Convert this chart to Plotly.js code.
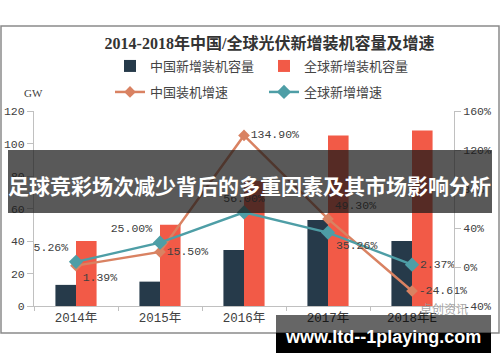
<!DOCTYPE html>
<html>
<head>
<meta charset="utf-8">
<script src="https://cdn.plot.ly/plotly-3.0.1.min.js"></script>
<style>
html,body{margin:0;padding:0;background:#fff;}
#chart{width:500px;height:362px;}
</style>
</head>
<body>
<div id="chart"></div>
<script>
// ---- data ----
const categories = ['2014年', '2015年', '2016年', '2017年', '2018年E'];
const chinaCapacity = [13, 15, 34.5, 53, 40];          // GW
const globalCapacity = [40, 50, 77, 105, 108];          // GW
const chinaGrowth = [1.39, 15.50, 134.90, 49.30, -24.61];   // %
const globalGrowth = [5.26, 25.00, 56.00, 35.26, 2.37];     // %
const leftTicks = [0, 20, 40, 60, 80, 100, 120];
const rightTicks = [-40, 0, 40, 80, 120, 160];
const rightTickLabels = ['-40%', '0%', '40%', '80%', '120%', '160%'];

const chartTitle = '2014-2018年中国/全球光伏新增装机容量及增速';
const seriesNames = ['中国新增装机容量', '全球新增装机容量', '中国装机增速', '全球新增增速'];
const bannerText = '足球竞彩场次减少背后的多重因素及其市场影响分析';
const watermarkText = 'www.ltd--1playing.com';
const sourceText = '卓创资讯';

// ---- geometry helpers (pixel -> paper) ----
const W = 500, H = 362;
const M = {l: 34, r: 46, t: 111, b: 56};
const PW = W - M.l - M.r, PH = H - M.t - M.b;
const px = x => (x - M.l) / PW;
const py = y => (H - M.b - y) / PH;

const monoFont = 'Liberation Mono, Noto Sans CJK SC, monospace';
const cjkFont = 'Noto Sans CJK SC, sans-serif';

const fmt = v => v.toFixed(2) + '%';

const traces = [
  {
    type: 'bar', name: seriesNames[0], x: categories, y: chinaCapacity,
    marker: {color: '#263a4a'}, legend: 'legend', hoverinfo: 'skip'
  },
  {
    type: 'bar', name: seriesNames[1], x: categories, y: globalCapacity,
    marker: {color: '#f25a47'}, legend: 'legend', hoverinfo: 'skip'
  },
  {
    type: 'scatter', name: seriesNames[2], x: categories, y: chinaGrowth, yaxis: 'y2',
    mode: 'lines+markers+text', legend: 'legend2',
    line: {color: '#d98262', width: 2.5},
    marker: {symbol: 'diamond', size: 9, color: '#d98262'},
    text: chinaGrowth.map(fmt),
    textposition: ['bottom right', 'middle right', 'middle right', 'top right', 'middle right'],
    textfont: {family: monoFont, size: 11.5, color: '#404040'},
    cliponaxis: false, hoverinfo: 'skip'
  },
  {
    type: 'scatter', name: seriesNames[3], x: categories, y: globalGrowth, yaxis: 'y2',
    mode: 'lines+markers+text', legend: 'legend2',
    line: {color: '#4e9ea6', width: 2.5},
    marker: {symbol: 'diamond', size: 11, color: '#4e9ea6'},
    text: globalGrowth.map(fmt),
    textposition: ['top left', 'top left', 'top center', 'bottom right', 'middle right'],
    textfont: {family: monoFont, size: 11.5, color: '#404040'},
    cliponaxis: false, hoverinfo: 'skip'
  }
];

const legendBase = {
  orientation: 'h', xref: 'container', yref: 'container',
  xanchor: 'left', yanchor: 'middle',
  font: {family: cjkFont, size: 13, color: '#444'},
  entrywidth: 109, entrywidthmode: 'pixels',
  bgcolor: 'rgba(0,0,0,0)', borderwidth: 0, traceorder: 'normal'
};

const layout = {
  width: W, height: H,
  margin: M,
  paper_bgcolor: '#fff', plot_bgcolor: '#fff',
  showlegend: true,
  barmode: 'group', bargap: 0.51, bargroupgap: 0,
  font: {family: monoFont, size: 12, color: '#404040'},
  title: {
    text: '<b>' + chartTitle + '</b>',
    font: {family: 'Liberation Serif, Noto Sans CJK SC, serif', size: 16, color: '#333'},
    xref: 'container', yref: 'container', x: 269.5 / W, y: 1 - 43 / H,
    xanchor: 'center', yanchor: 'middle'
  },
  legend: Object.assign({}, legendBase, {x: 110 / W, y: 1 - 66 / H}),
  legend2: Object.assign({}, legendBase, {x: 110 / W, y: 1 - 92 / H}),
  xaxis: {
    type: 'category', showline: true, linecolor: '#c0c0c0', linewidth: 1,
    ticks: 'outside', tickson: 'boundaries', ticklen: 4, tickcolor: '#c0c0c0',
    tickfont: {family: monoFont, size: 12.5, color: '#404040'},
    showgrid: false, zeroline: false, fixedrange: true
  },
  yaxis: {
    range: [0, 120], tickmode: 'array', tickvals: leftTicks, showline: true, linecolor: '#c0c0c0',
    ticks: 'outside', ticklen: 6, tickcolor: '#c0c0c0',
    tickfont: {family: monoFont, size: 11.5, color: '#404040'},
    showgrid: false, zeroline: false, fixedrange: true
  },
  yaxis2: {
    range: [-40, 160], tickmode: 'array', tickvals: rightTicks, ticktext: rightTickLabels,
    overlaying: 'y', side: 'right', showline: true, linecolor: '#c0c0c0',
    ticks: 'outside', ticklen: 6, tickcolor: '#c0c0c0',
    tickfont: {family: monoFont, size: 11.5, color: '#404040'},
    showgrid: false, zeroline: false, fixedrange: true
  },
  shapes: [
    // outer image border
    {type: 'rect', xref: 'paper', yref: 'paper', x0: px(1), x1: px(499), y0: py(26), y1: py(333),
     line: {color: '#8a8a8a', width: 1.5}, fillcolor: 'rgba(0,0,0,0)', layer: 'below'},
    // overlay banner
    {type: 'rect', xref: 'paper', yref: 'paper', x0: px(8), x1: px(492), y0: py(150), y1: py(213),
     line: {width: 0}, fillcolor: 'rgba(25,25,25,0.72)', layer: 'above'},
    // watermark box (upper translucent part over the chart)
    {type: 'rect', xref: 'paper', yref: 'paper', x0: px(276), x1: px(491), y0: py(315), y1: py(333),
     line: {width: 0}, fillcolor: 'rgba(0,0,0,0.6)', layer: 'above'},
    // watermark box (lower solid part)
    {type: 'rect', xref: 'paper', yref: 'paper', x0: px(276), x1: px(491), y0: py(333), y1: py(353),
     line: {width: 0}, fillcolor: '#000', layer: 'above'}
  ],
  annotations: [
    {text: 'GW', xref: 'paper', yref: 'paper', x: px(22), y: py(85), showarrow: false,
     font: {family: 'Liberation Serif, serif', size: 11, color: '#404040'}},
    {text: '<b>' + bannerText + '</b>', xref: 'paper', yref: 'paper', x: px(250), y: py(185),
     xanchor: 'center', yanchor: 'middle', showarrow: false,
     font: {family: cjkFont, size: 21, color: '#fff'}},
    {text: sourceText, xref: 'paper', yref: 'paper', x: px(444), y: py(308),
     xanchor: 'center', yanchor: 'middle', showarrow: false,
     font: {family: cjkFont, size: 12, color: 'rgba(150,150,150,0.85)'}},
    {text: '<b>' + watermarkText + '</b>', xref: 'paper', yref: 'paper', x: px(383), y: py(337),
     xanchor: 'center', yanchor: 'middle', showarrow: false,
     font: {family: 'Liberation Sans, Arial, sans-serif', size: 18, color: '#fff'}}
  ]
};

Plotly.newPlot('chart', traces, layout, {staticPlot: true, displayModeBar: false});
</script>
</body>
</html>
